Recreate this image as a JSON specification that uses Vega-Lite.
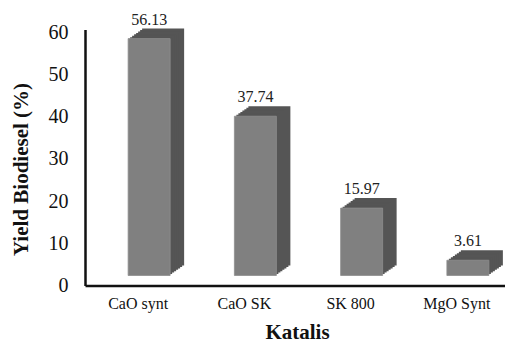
{
  "$schema": "https://vega.github.io/schema/vega-lite/v6.json",
  "autosize": "none",
  "width": 420,
  "height": 256,
  "padding": {"left": 85, "top": 29.5, "right": 0, "bottom": 57.5},
  "background": "white",
  "config": {
    "view": {"stroke": null},
    "font": "Liberation Serif",
    "text": {"font": "Liberation Serif"},
    "axis": {"labelFont": "Liberation Serif", "titleFont": "Liberation Serif", "labelColor": "#111", "titleColor": "#111", "domainColor": "#111", "domainWidth": 2.5, "ticks": false, "grid": false}
  },
  "data": {"values": [
    {"Katalis": "CaO synt", "yield": 56.13},
    {"Katalis": "CaO SK", "yield": 37.74},
    {"Katalis": "SK 800", "yield": 15.97},
    {"Katalis": "MgO Synt", "yield": 3.61}
  ]},
  "encoding": {
    "x": {"field": "Katalis", "type": "nominal", "sort": null,
      "scale": {"range": [0, 425], "paddingInner": 0, "paddingOuter": 0},
      "axis": {"title": "Katalis", "labelAngle": 0, "labelFont": "Liberation Serif", "titleFont": "Liberation Serif", "labelFontSize": 16, "labelPadding": 10, "titleFontSize": 21, "titleFontWeight": "bold", "titleBaseline": "alphabetic", "titleX": 212, "titleY": 53, "titleAnchor": null}},
    "y": {"field": "yield", "type": "quantitative",
      "scale": {"domain": [0, 60.66], "nice": false, "zero": true},
      "axis": {"title": "Yield Biodiesel (%)", "values": [0, 10, 20, 30, 40, 50, 60], "labelFont": "Liberation Serif", "titleFont": "Liberation Serif", "labelFontSize": 20, "labelPadding": 17, "titleFontSize": 21, "titleFontWeight": "bold", "titleBaseline": "alphabetic", "titleAlign": "center", "titleX": -58, "titleY": 139.5}}
  },
  "layer": [
    {"mark": {"type": "bar", "width": 42, "color": "#555555", "xOffset": 25, "yOffset": -20, "y2Offset": -20}},
    {"mark": {"type": "bar", "width": 42, "color": "#555555", "xOffset": 23, "yOffset": -18.6, "y2Offset": -18.6}},
    {"mark": {"type": "bar", "width": 42, "color": "#555555", "xOffset": 21, "yOffset": -17.1, "y2Offset": -17.1}},
    {"mark": {"type": "bar", "width": 42, "color": "#555555", "xOffset": 19, "yOffset": -15.7, "y2Offset": -15.7}},
    {"mark": {"type": "bar", "width": 42, "color": "#555555", "xOffset": 17, "yOffset": -14.3, "y2Offset": -14.3}},
    {"mark": {"type": "bar", "width": 42, "color": "#555555", "xOffset": 15, "yOffset": -12.9, "y2Offset": -12.9}},
    {"mark": {"type": "bar", "width": 42, "color": "#555555", "xOffset": 13, "yOffset": -11.4, "y2Offset": -11.4}},
    {"mark": {"type": "bar", "width": 42, "color": "#808080", "stroke": "#8e8e8e", "strokeWidth": 0.8, "xOffset": 11, "yOffset": -10, "y2Offset": -10}},
    {"mark": {"type": "text", "font": "Liberation Serif", "fontSize": 16, "color": "#222", "baseline": "alphabetic", "align": "center", "dx": 11, "dy": -24},
     "encoding": {"text": {"field": "yield", "type": "quantitative", "format": ".2f"}}}
  ]
}
